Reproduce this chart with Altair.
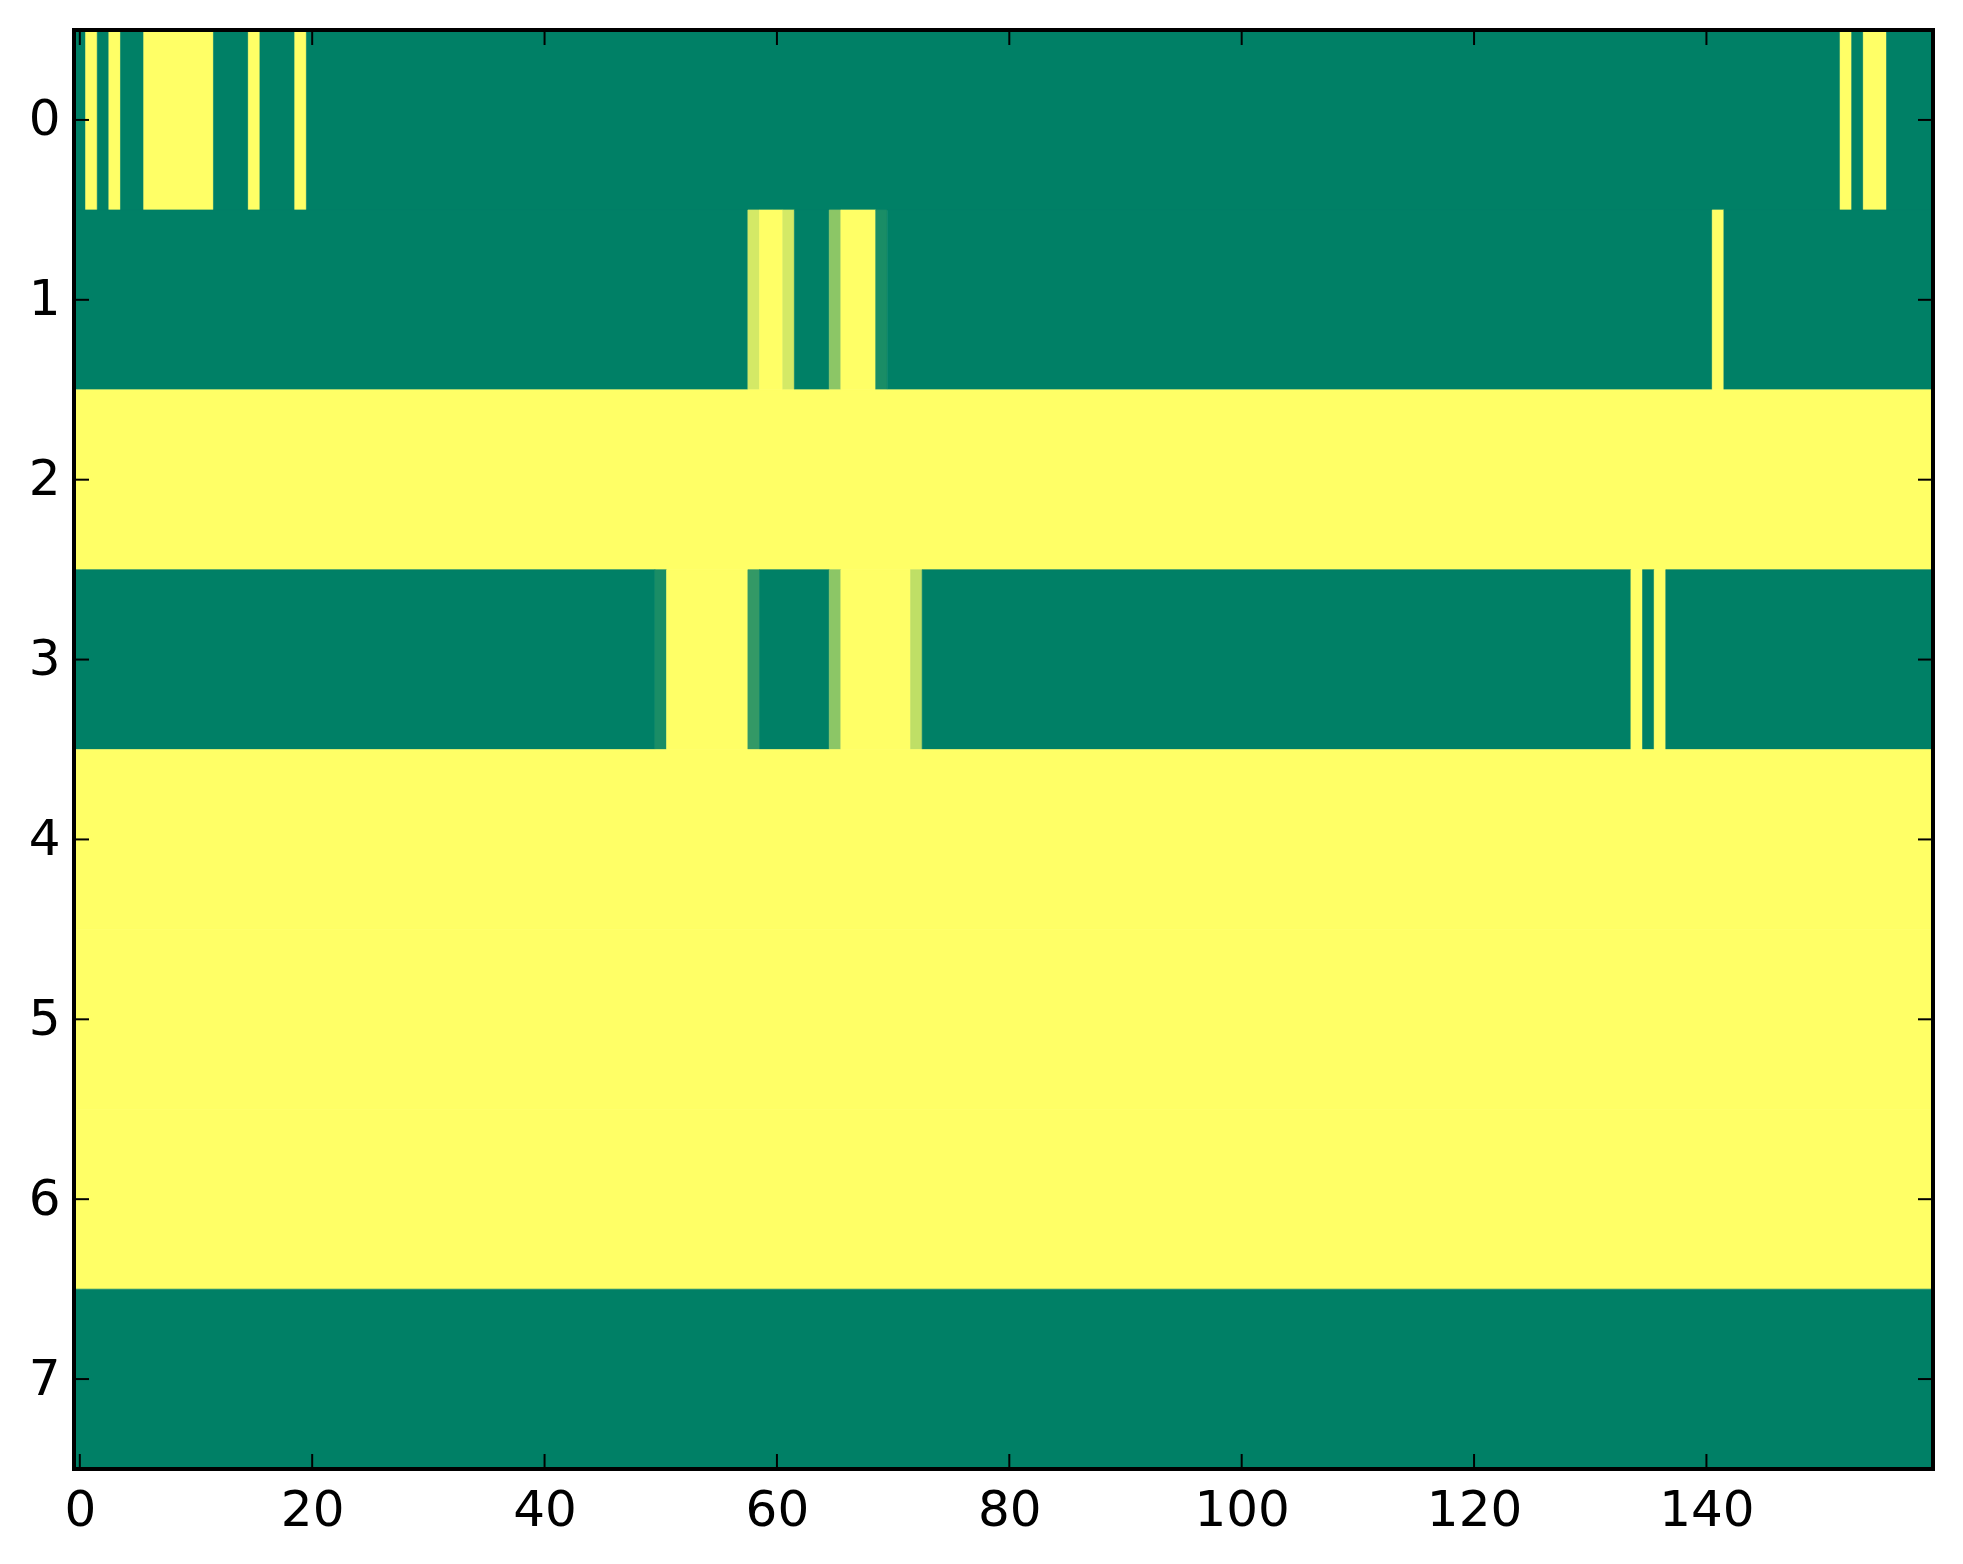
import altair as alt
import pandas as pd

N_COLS = 160
N_ROWS = 8

# base value of every row (0 = green, 1 = yellow)
row_base = [0, 0, 1, 0, 1, 1, 1, 0]

# cells that differ from the row base: (first_col, last_col, value)
row0_cells = [(1, 1, 1.0), (3, 3, 1.0), (6, 11, 1.0), (15, 15, 1.0), (19, 19, 1.0),
              (152, 152, 1.0), (154, 155, 1.0)]
row1_cells = [(58, 58, 0.83), (59, 60, 1.0), (61, 61, 0.83), (65, 65, 0.55),
              (66, 68, 1.0), (69, 69, 0.1), (141, 141, 1.0)]
row3_cells = [(50, 50, 0.1), (51, 57, 1.0), (58, 58, 0.2), (65, 65, 0.55),
              (66, 71, 1.0), (72, 72, 0.75), (134, 134, 1.0), (136, 136, 1.0)]
special = {0: row0_cells, 1: row1_cells, 3: row3_cells}

x_ticks = [0, 20, 40, 60, 80, 100, 120, 140]
y_ticks = [0, 1, 2, 3, 4, 5, 6, 7]

# build runs
records = []
for r in range(N_ROWS):
    vals = [float(row_base[r])] * N_COLS
    for a, b, v in special.get(r, []):
        for c in range(a, b + 1):
            vals[c] = v
    start = 0
    for c in range(1, N_COLS + 1):
        if c == N_COLS or vals[c] != vals[start]:
            records.append({"x0": start - 0.5, "x1": c - 0.5,
                            "y0": r - 0.5, "y1": r + 0.5, "v": vals[start]})
            start = c
df = pd.DataFrame(records)

W, H = 1859, 1439
FONT = "DejaVu Sans"
TL = 15

xscale = alt.Scale(domain=[-0.5, 159.5], nice=False, zero=False)
yscale = alt.Scale(domain=[-0.5, 7.5], reverse=True, nice=False, zero=False)
xaxis = alt.Axis(values=x_ticks, ticks=False, domain=False, grid=False, title=None,
                 labelFont=FONT, labelFontSize=50, labelColor="black", labelPadding=16,
                 labelFlush=False)
yaxis = alt.Axis(values=y_ticks, ticks=False, domain=False, grid=False, title=None,
                 labelFont=FONT, labelFontSize=50, labelColor="black", labelPadding=14)

cscale = alt.Scale(domain=[0, 1], range=["#008066", "#ffff66"], interpolate="rgb")

heat = alt.Chart(df).mark_rect(strokeWidth=0.6).encode(
    x=alt.X("x0:Q", scale=xscale, axis=xaxis),
    x2="x1:Q",
    y=alt.Y("y0:Q", scale=yscale, axis=yaxis),
    y2="y1:Q",
    color=alt.Color("v:Q", scale=cscale, legend=None),
    stroke=alt.Stroke("v:Q", scale=cscale, legend=None),
)

xt = pd.DataFrame({"x0": x_ticks})
yt = pd.DataFrame({"y0": y_ticks})

tick_style = dict(color="black", strokeWidth=2)
xb = alt.Chart(xt).mark_rule(**tick_style).encode(
    x=alt.X("x0:Q", scale=xscale, axis=xaxis), y=alt.value(H - TL), y2=alt.value(H))
xtp = alt.Chart(xt).mark_rule(**tick_style).encode(
    x=alt.X("x0:Q", scale=xscale, axis=xaxis), y=alt.value(0), y2=alt.value(TL))
yl = alt.Chart(yt).mark_rule(**tick_style).encode(
    y=alt.Y("y0:Q", scale=yscale, axis=yaxis), x=alt.value(0), x2=alt.value(TL))
yr = alt.Chart(yt).mark_rule(**tick_style).encode(
    y=alt.Y("y0:Q", scale=yscale, axis=yaxis), x=alt.value(W - TL), x2=alt.value(W))

frame = alt.Chart(pd.DataFrame({"f": [0]})).mark_rect(
    filled=False, stroke="black", strokeWidth=4, fill=None).encode(
    x=alt.value(0), x2=alt.value(W), y=alt.value(0), y2=alt.value(H))

chart = alt.layer(heat, xb, xtp, yl, yr, frame).properties(
    width=W, height=H,
    padding={"left": 20, "top": 20, "right": 20, "bottom": 10},
).configure_view(stroke=None).configure(background="white")

chart.save("out.html", embed_options={"renderer": "svg", "actions": False})
